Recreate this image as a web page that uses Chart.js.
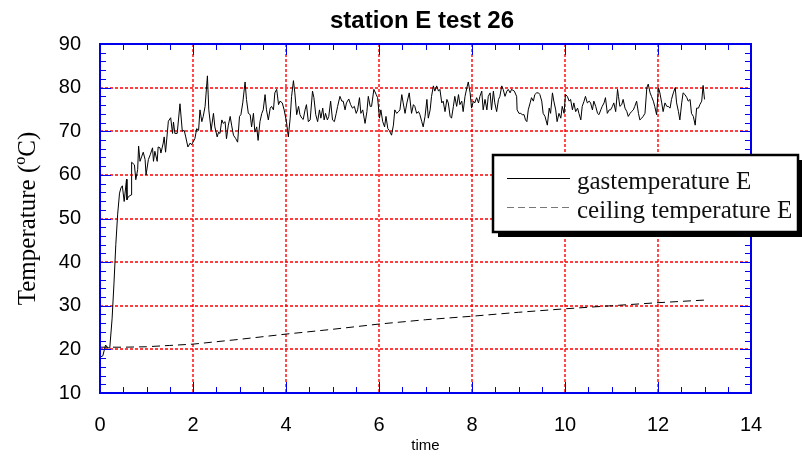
<!DOCTYPE html>
<html>
<head>
<meta charset="utf-8">
<script src="https://cdn.jsdelivr.net/npm/chart.js@4.4.1/dist/chart.umd.min.js"></script>
<style>
  html, body { margin: 0; padding: 0; background: #fff; }
</style>
</head>
<body>
<canvas id="chart" width="802" height="458"></canvas>
<script>
// ==================== data ====================
const gasTime = [
  0.02, 0.06, 0.12, 0.16, 0.21, 0.26, 0.30, 0.34, 0.38, 0.42, 0.45, 0.48, 0.52, 0.57, 0.58, 0.61,
  0.67, 0.68, 0.74, 0.77, 0.81, 0.83, 0.86, 0.90, 0.93, 0.97, 0.99, 1.04, 1.08, 1.13, 1.15, 1.18,
  1.23, 1.25, 1.29, 1.31, 1.36, 1.38, 1.41, 1.47, 1.52, 1.56, 1.58, 1.61, 1.66, 1.72, 1.77, 1.81,
  1.84, 1.89, 1.94, 1.97,
  2.04, 2.08, 2.12, 2.15, 2.19, 2.22, 2.26, 2.31, 2.34, 2.39, 2.44, 2.47, 2.52, 2.55, 2.58, 2.62,
  2.65, 2.69, 2.72, 2.76, 2.80, 2.83, 2.87, 2.92, 2.96, 3.00, 3.03, 3.07, 3.12, 3.15, 3.19, 3.23,
  3.26, 3.30, 3.33, 3.37, 3.40, 3.44, 3.48, 3.51, 3.55, 3.58, 3.62, 3.66, 3.69, 3.73, 3.76, 3.80,
  3.84, 3.87, 3.92, 3.96, 4.01, 4.05, 4.09, 4.12, 4.16, 4.19, 4.23, 4.27,
  4.30, 4.34, 4.37, 4.41, 4.44, 4.48, 4.52, 4.57, 4.60, 4.64, 4.68, 4.72, 4.75, 4.79, 4.82, 4.85,
  4.89, 4.92, 4.96, 5.00, 5.04, 5.08, 5.11, 5.16, 5.20, 5.23, 5.27, 5.30, 5.35, 5.39, 5.43, 5.47,
  5.51, 5.54, 5.58, 5.61, 5.65, 5.70, 5.74, 5.77, 5.81, 5.84, 5.89, 5.94, 5.97, 6.01, 6.04, 6.08,
  6.12, 6.15, 6.19, 6.22, 6.27, 6.31, 6.34, 6.38, 6.42, 6.45, 6.49, 6.52, 6.56, 6.60, 6.65,
  6.70, 6.74, 6.77, 6.81, 6.85, 6.88, 6.92, 6.95, 6.99, 7.03, 7.06, 7.10, 7.13, 7.17, 7.20, 7.24,
  7.28, 7.31, 7.35, 7.38, 7.42, 7.46, 7.49, 7.53, 7.56, 7.60, 7.63, 7.67, 7.71, 7.74, 7.78, 7.81,
  7.85, 7.89, 7.92, 7.96, 7.99, 8.03, 8.06, 8.10, 8.14, 8.17, 8.21, 8.24, 8.28, 8.32, 8.35, 8.39,
  8.42, 8.46, 8.49, 8.53, 8.57, 8.60, 8.64, 8.67, 8.71, 8.75, 8.78, 8.82, 8.85, 8.91,
  8.96, 8.97, 9.01, 9.05, 9.08, 9.12, 9.15, 9.18, 9.21, 9.25, 9.28, 9.32, 9.35, 9.39, 9.43, 9.46,
  9.50, 9.53, 9.57, 9.62, 9.66, 9.69, 9.73, 9.76, 9.80, 9.83, 9.87, 9.91, 9.94, 9.98, 10.01, 10.05,
  10.09, 10.12, 10.16, 10.19, 10.23, 10.27, 10.30, 10.34, 10.37, 10.41, 10.44, 10.48, 10.52, 10.55, 10.59, 10.62,
  10.66, 10.70, 10.73, 10.77, 10.80, 10.84, 10.87, 10.91, 10.95, 10.98, 11.02, 11.05, 11.09, 11.13,
  11.15, 11.18, 11.22, 11.25, 11.29, 11.33, 11.36, 11.40, 11.43, 11.47, 11.50, 11.54, 11.58, 11.61, 11.65, 11.68,
  11.72, 11.76, 11.79, 11.83, 11.86, 11.90, 11.93, 11.97, 12.01, 12.04, 12.08, 12.11, 12.15, 12.19, 12.22, 12.26,
  12.29, 12.33, 12.37, 12.40, 12.44, 12.47, 12.51, 12.54, 12.58, 12.62, 12.65, 12.69, 12.72, 12.76, 12.80, 12.83,
  12.87, 12.90, 12.94, 12.97, 13.00
];
const gasTemp = [
  18.3, 18.5, 21.0, 20.4, 20.3, 27.0, 35.0, 44.0, 51.0, 55.8, 57.0, 57.5, 53.9, 59.0, 54.3, 55.0,
  55.4, 62.9, 62.3, 58.9, 61.2, 66.6, 63.1, 64.3, 65.2, 63.5, 60.0, 63.5, 64.6, 66.2, 63.1, 65.4,
  63.1, 66.4, 66.2, 65.0, 67.3, 68.7, 65.2, 72.3, 73.1, 69.5, 72.1, 69.5, 69.5, 76.3, 70.0, 70.2,
  68.9, 66.4, 67.3, 66.9,
  68.3, 70.6, 70.2, 74.9, 72.2, 73.4, 75.7, 82.7, 74.9, 70.2, 74.1, 71.0, 68.7, 69.8, 69.5, 72.6,
  71.8, 72.2, 68.3, 71.4, 73.4, 71.4, 69.1, 68.3, 67.5, 73.4, 73.8, 76.5, 81.3, 77.3, 74.1, 73.8,
  71.0, 74.1, 69.8, 71.0, 67.9, 72.2, 74.1, 74.9, 78.4, 74.9, 72.6, 75.3, 75.7, 74.9, 78.8, 79.6,
  76.1, 76.9, 76.5, 74.9, 72.2, 68.7, 73.0, 78.0, 81.6, 78.8, 73.8, 75.7,
  73.8, 73.0, 72.7, 74.9, 76.1, 72.2, 72.6, 79.2, 77.7, 73.8, 72.2, 74.9, 73.0, 75.3, 72.6, 74.1,
  72.6, 73.4, 76.9, 72.6, 72.2, 74.1, 75.7, 78.0, 76.9, 76.9, 74.9, 76.5, 77.4, 76.1, 75.3, 75.7,
  74.1, 74.9, 77.7, 74.1, 74.9, 71.8, 74.5, 78.0, 75.7, 75.7, 79.6, 78.4, 77.7, 73.0, 74.9, 72.2,
  71.0, 73.4, 70.6, 70.2, 69.1, 71.4, 74.9, 74.1, 74.5, 74.9, 78.4, 76.5, 74.1, 76.5, 78.8,
  74.1, 76.1, 75.7, 74.1, 74.5, 73.8, 72.2, 71.0, 73.4, 77.3, 73.0, 74.9, 78.0, 80.4, 79.2, 80.4,
  79.2, 79.6, 76.5, 76.9, 74.5, 77.3, 76.5, 73.4, 73.0, 75.7, 78.0, 75.7, 78.4, 76.1, 76.9, 74.5,
  78.0, 80.0, 81.3, 78.8, 75.3, 76.9, 76.5, 77.7, 76.5, 78.0, 79.2, 74.9, 77.3, 74.9, 78.0, 78.8,
  74.9, 79.2, 76.5, 74.5, 77.3, 78.0, 80.4, 79.6, 78.0, 79.2, 79.6, 78.8, 79.6, 79.2,
  78.0, 74.9, 74.1, 74.1, 73.8, 73.8, 72.6, 72.2, 74.9, 76.5, 77.7, 76.9, 78.4, 78.8, 78.8, 78.4,
  76.9, 74.1, 73.4, 71.4, 75.3, 74.1, 78.8, 76.9, 74.9, 72.2, 74.1, 73.0, 75.7, 74.1, 78.4, 78.0,
  76.9, 77.3, 74.9, 76.5, 74.5, 75.3, 74.1, 72.6, 75.7, 76.9, 78.0, 76.5, 76.9, 76.5, 74.9, 76.9,
  75.7, 74.1, 73.8, 74.9, 75.7, 76.5, 77.7, 74.1, 74.9, 74.9, 75.7, 76.5, 74.5, 79.6,
  78.0, 75.7, 76.1, 77.3, 75.3, 74.5, 73.4, 74.1, 74.5, 74.9, 75.7, 76.9, 74.1, 72.6, 73.0, 73.4,
  74.1, 80.0, 80.8, 78.8, 78.0, 76.9, 75.7, 73.8, 80.0, 78.8, 76.5, 74.5, 76.5, 75.7, 75.7, 75.3,
  77.3, 78.8, 80.0, 76.5, 74.5, 72.6, 76.5, 78.8, 78.4, 77.7, 76.9, 77.3, 74.1, 73.4, 71.4, 75.3,
  75.3, 76.1, 76.9, 80.5, 77.3
];
const ceilTime = [0, 0.5, 1, 1.5, 2, 3, 4, 5, 6, 7, 8, 9, 10, 11, 12, 13];
const ceilTemp = [20.5, 20.5, 20.6, 20.9, 21.2, 22.3, 23.5, 24.6, 25.8, 26.8, 27.6, 28.5, 29.3, 30.0, 30.7, 31.3];

const xMin = 0, xMax = 14, xStep = 2;
const yMin = 10, yMax = 90, yStep = 10;

const titleText = 'station E test 26';
const xTitleText = 'time';
const gasLabel = 'gastemperature E';
const ceilLabel = 'ceiling temperature E';

// ==================== helpers ====================
function toPoints(xs, ys) {
    return xs.map((x, i) => ({ x: x, y: ys[i] }));
}

function strokeLine(ctx, x1, y1, x2, y2) {
    ctx.beginPath();
    ctx.moveTo(x1, y1);
    ctx.lineTo(x2, y2);
    ctx.stroke();
}

// Red dotted grid at the major ticks, drawn under the lines
const gridPlugin = {
    id: 'redGrid',
    beforeDatasetsDraw(chart) {
        const { ctx, chartArea: a, scales: { x, y } } = chart;
        ctx.save();
        ctx.strokeStyle = '#ff0000';
        ctx.lineWidth = 1.4;
        ctx.setLineDash([3, 2]);
        for (let v = xMin + xStep; v < xMax; v += xStep) {
            const px = Math.round(x.getPixelForValue(v));
            strokeLine(ctx, px, a.top, px, a.bottom);
        }
        for (let v = yMin + yStep; v < yMax; v += yStep) {
            const py = Math.round(y.getPixelForValue(v));
            strokeLine(ctx, a.left, py, a.right, py);
        }
        ctx.restore();
    }
};

// Blue frame with inward ticks on all four sides
const framePlugin = {
    id: 'frame',
    afterDatasetsDraw(chart) {
        const { ctx, chartArea: a, scales: { x, y } } = chart;
        ctx.save();
        ctx.strokeStyle = '#0000ee';
        ctx.lineWidth = 1;
        for (let i = 0; i <= (xMax - xMin) * 2; i++) {
            const px = Math.round(x.getPixelForValue(xMin + i * 0.5)) + 0.5;
            const len = i % 4 === 0 ? 11 : 6;
            strokeLine(ctx, px, a.bottom, px, a.bottom - len);
            strokeLine(ctx, px, a.top, px, a.top + len);
        }
        for (let i = 0; i <= (yMax - yMin) / 2; i++) {
            const py = Math.round(y.getPixelForValue(yMin + i * 2)) + 0.5;
            const len = i % 5 === 0 ? 11 : 6;
            strokeLine(ctx, a.left, py, a.left + len, py);
            strokeLine(ctx, a.right, py, a.right - len, py);
        }
        ctx.lineWidth = 2;
        ctx.strokeRect(a.left, a.top, a.right - a.left, a.bottom - a.top);
        ctx.restore();
    }
};

// Titles and the boxed legend with a drop shadow
const textPlugin = {
    id: 'texts',
    afterDraw(chart) {
        const { ctx, chartArea: a } = chart;
        ctx.save();
        ctx.fillStyle = '#000';

        // main title
        ctx.font = 'bold 24px "Liberation Sans", Arial, sans-serif';
        ctx.textAlign = 'center';
        ctx.textBaseline = 'alphabetic';
        ctx.fillText(titleText, 422, 28);

        // x axis title
        ctx.font = '15px "Liberation Sans", Arial, sans-serif';
        ctx.fillText(xTitleText, (a.left + a.right) / 2, 450);

        // y axis title with superscript o
        ctx.translate(35, (a.top + a.bottom) / 2);
        ctx.rotate(-Math.PI / 2);
        ctx.textAlign = 'left';
        const big = '25px "Liberation Serif", "Times New Roman", serif';
        const small = '16px "Liberation Serif", "Times New Roman", serif';
        ctx.font = big;
        const w1 = ctx.measureText('Temperature (').width;
        const w3 = ctx.measureText('C)').width;
        ctx.font = small;
        const w2 = ctx.measureText('o').width;
        let sx = -(w1 + w2 + w3) / 2;
        ctx.font = big;
        ctx.fillText('Temperature (', sx, 0);
        sx += w1;
        ctx.font = small;
        ctx.fillText('o', sx, -10);
        sx += w2;
        ctx.font = big;
        ctx.fillText('C)', sx, 0);
        ctx.restore();

        // legend
        ctx.save();
        const lx = 493, ly = 155, lw = 305, lh = 77;
        ctx.fillStyle = '#000';
        ctx.fillRect(lx + 5, ly + 5, lw, lh);
        ctx.fillStyle = '#fff';
        ctx.fillRect(lx, ly, lw, lh);
        ctx.strokeStyle = '#000';
        ctx.lineWidth = 2.5;
        ctx.strokeRect(lx, ly, lw, lh);

        ctx.lineWidth = 1;
        ctx.strokeStyle = '#000';
        strokeLine(ctx, 507, 178.5, 570, 178.5);
        ctx.strokeStyle = '#777';
        ctx.setLineDash([7, 4]);
        strokeLine(ctx, 507, 207.5, 570, 207.5);
        ctx.setLineDash([]);

        ctx.fillStyle = '#111';
        ctx.font = '25px "Liberation Serif", "Times New Roman", serif';
        ctx.textAlign = 'left';
        ctx.textBaseline = 'alphabetic';
        ctx.fillText(gasLabel, 577, 189);
        ctx.fillText(ceilLabel, 577, 218);
        ctx.restore();
    }
};

const tickFont = { family: '"Liberation Sans", Arial, sans-serif', size: 20 };

new Chart(document.getElementById('chart'), {
    type: 'line',
    data: {
        datasets: [
            {
                label: gasLabel,
                data: toPoints(gasTime, gasTemp),
                borderColor: '#000',
                borderWidth: 1,
                pointRadius: 0,
                tension: 0,
                fill: false
            },
            {
                label: ceilLabel,
                data: toPoints(ceilTime, ceilTemp),
                borderColor: '#000',
                borderWidth: 1,
                borderDash: [8, 5],
                pointRadius: 0,
                tension: 0,
                fill: false
            }
        ]
    },
    options: {
        responsive: false,
        animation: false,
        devicePixelRatio: 1,
        layout: { padding: { top: 44, right: 51, left: 0, bottom: 0 } },
        plugins: {
            legend: { display: false },
            title: { display: false },
            tooltip: { enabled: false }
        },
        scales: {
            x: {
                type: 'linear',
                min: xMin,
                max: xMax,
                ticks: { stepSize: xStep, color: '#000', font: tickFont, padding: 20, maxRotation: 0 },
                grid: { display: false, drawTicks: false },
                border: { display: false },
                afterFit(scale) { scale.height = 65; }
            },
            y: {
                min: yMin,
                max: yMax,
                ticks: { stepSize: yStep, color: '#000', font: tickFont, padding: 19 },
                grid: { display: false, drawTicks: false },
                border: { display: false },
                afterFit(scale) { scale.width = 100; }
            }
        }
    },
    plugins: [gridPlugin, framePlugin, textPlugin]
});
</script>
</body>
</html>
